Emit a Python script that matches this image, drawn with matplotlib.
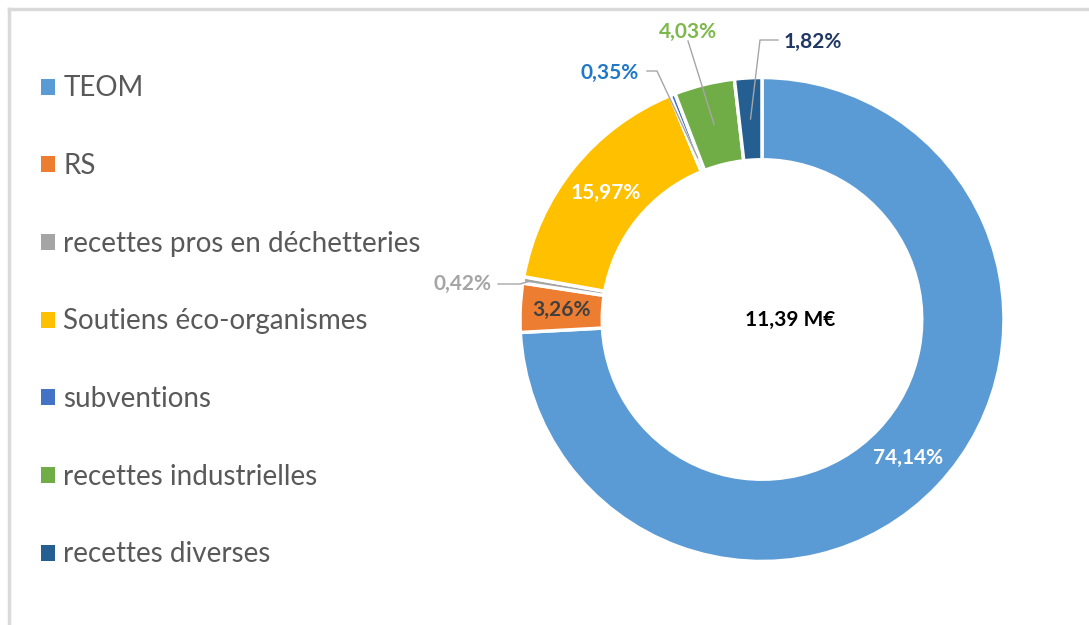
import numpy as np
import matplotlib
matplotlib.use("Agg")
import matplotlib.pyplot as plt
from matplotlib.patches import Patch

categories = ["TEOM", "RS", "recettes pros en déchetteries", "Soutiens éco-organismes",
              "subventions", "recettes industrielles", "recettes diverses"]
values = [74.14, 3.26, 0.42, 15.97, 0.35, 4.03, 1.82]
labels = ["74,14%", "3,26%", "0,42%", "15,97%", "0,35%", "4,03%", "1,82%"]
total_label = "11,39 M€"

colors = ["#5B9BD5", "#ED7D31", "#A5A5A5", "#FFC000", "#4472C4", "#70AD47", "#255E91"]
label_colors = ["white", "#404040", "#A5A5A5", "white", "#1F78C8", "#7DB84C", "#203864"]

plt.rcParams['font.family'] = ['Lato', 'DejaVu Sans']

W, H = 1089, 625
fig = plt.figure(figsize=(W / 100, H / 100), dpi=100)
ax = fig.add_axes([0, 0, 1, 1])

cx, cy, R = 762, H - 319.5, 242
wedges, _ = ax.pie(values, startangle=90, counterclock=False, colors=colors,
                   radius=R, center=(cx, cy), frame=True,
                   wedgeprops=dict(width=R * 0.34, edgecolor='white', linewidth=2.5))
ax.set_xlim(0, W)
ax.set_ylim(0, H)
ax.set_aspect('auto')
ax.axis('off')

# frame border (top and left)
ax.plot([8.5, W], [H - 8.5, H - 8.5], color='#D9D9D9', lw=2.5, clip_on=False)
ax.plot([8.5, 8.5], [0, H - 8.5], color='#D9D9D9', lw=2.5, clip_on=False)

def mid_point(i, r):
    w = wedges[i]
    ang = np.deg2rad((w.theta1 + w.theta2) / 2)
    return cx + r * np.cos(ang), cy + r * np.sin(ang)

rmid = R * 0.83
fs = 15
for i in (0, 1, 3):
    x, y = mid_point(i, rmid)
    ax.text(x, y, labels[i], color=label_colors[i], fontsize=fs, fontweight='bold',
            ha='center', va='center')

# outside labels with leader lines
outside = {
    2: dict(text=(462, H - 284), r=R * 0.97, path=[(498, H - 284), (520, H - 284)]),
    4: dict(text=(610, H - 73), r=R * 0.72, path=[(647, H - 71), (657, H - 71)]),
    5: dict(text=(688, H - 32), r=R * 0.83, path=[(688, H - 41)]),
    6: dict(text=(813, H - 42), r=R * 0.83, path=[(778, H - 40), (760, H - 40)]),
}
for i, o in outside.items():
    tx, ty = o['text']
    px, py = mid_point(i, o['r'])
    ax.text(tx, ty, labels[i], color=label_colors[i], fontsize=fs, fontweight='bold',
            ha='center', va='center')
    pts = o['path'] + [(px, py)]
    xs, ys = zip(*pts)
    ax.plot(xs, ys, color='#A6A6A6', lw=1)

ax.text(cx + 28, cy, total_label, color='black', fontsize=15, fontweight='bold',
        ha='center', va='center')

handles = [Patch(facecolor=c, edgecolor='none') for c in colors]
leg = ax.legend(handles, categories, loc='upper left', bbox_to_anchor=(41 / W, 1 - 75.5 / H),
                frameon=False, fontsize=20, labelcolor='#595959',
                handlelength=0.5, handleheight=0.5, handletextpad=0.3,
                labelspacing=1.86, borderpad=0, borderaxespad=0)

fig.savefig("out.png", dpi=100, facecolor='white')
